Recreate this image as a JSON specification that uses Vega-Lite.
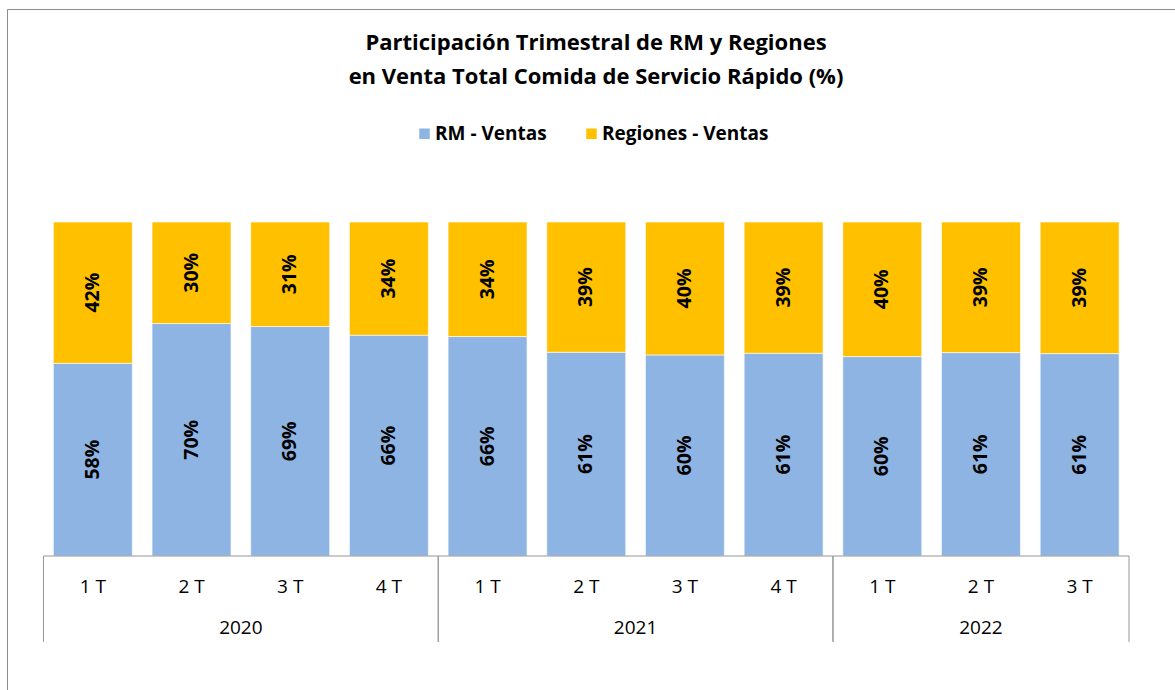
{
  "$schema": "https://vega.github.io/schema/vega-lite/v6.json",
  "width": 1168,
  "height": 681,
  "autosize": {"type": "none"},
  "padding": {"left": 7, "top": 9, "right": 0, "bottom": 0},
  "background": "white",
  "config": {
    "view": {"stroke": "#8c8c8c", "strokeWidth": 1},
    "font": "Open Sans",
    "text": {"font": "Open Sans", "color": "#000000"}
  },
  "title": {
    "text": ["Participación Trimestral de RM y Regiones", "en Venta Total Comida de Servicio Rápido (%)"],
    "fontSize": 22,
    "fontWeight": "bold",
    "font": "Open Sans",
    "color": "#000000",
    "anchor": "middle",
    "frame": "group",
    "offset": -80,
    "lineHeight": 34,
    "dx": 5
  },
  "datasets": {
    "ventas": [
      {"periodo": "2020-1", "anio": "2020", "trimestre": "1 T", "serie": "RM - Ventas", "valor": 0.577},
      {"periodo": "2020-1", "anio": "2020", "trimestre": "1 T", "serie": "Regiones - Ventas", "valor": 0.423},
      {"periodo": "2020-2", "anio": "2020", "trimestre": "2 T", "serie": "RM - Ventas", "valor": 0.696},
      {"periodo": "2020-2", "anio": "2020", "trimestre": "2 T", "serie": "Regiones - Ventas", "valor": 0.304},
      {"periodo": "2020-3", "anio": "2020", "trimestre": "3 T", "serie": "RM - Ventas", "valor": 0.687},
      {"periodo": "2020-3", "anio": "2020", "trimestre": "3 T", "serie": "Regiones - Ventas", "valor": 0.313},
      {"periodo": "2020-4", "anio": "2020", "trimestre": "4 T", "serie": "RM - Ventas", "valor": 0.661},
      {"periodo": "2020-4", "anio": "2020", "trimestre": "4 T", "serie": "Regiones - Ventas", "valor": 0.339},
      {"periodo": "2021-1", "anio": "2021", "trimestre": "1 T", "serie": "RM - Ventas", "valor": 0.657},
      {"periodo": "2021-1", "anio": "2021", "trimestre": "1 T", "serie": "Regiones - Ventas", "valor": 0.343},
      {"periodo": "2021-2", "anio": "2021", "trimestre": "2 T", "serie": "RM - Ventas", "valor": 0.610},
      {"periodo": "2021-2", "anio": "2021", "trimestre": "2 T", "serie": "Regiones - Ventas", "valor": 0.390},
      {"periodo": "2021-3", "anio": "2021", "trimestre": "3 T", "serie": "RM - Ventas", "valor": 0.602},
      {"periodo": "2021-3", "anio": "2021", "trimestre": "3 T", "serie": "Regiones - Ventas", "valor": 0.398},
      {"periodo": "2021-4", "anio": "2021", "trimestre": "4 T", "serie": "RM - Ventas", "valor": 0.607},
      {"periodo": "2021-4", "anio": "2021", "trimestre": "4 T", "serie": "Regiones - Ventas", "valor": 0.393},
      {"periodo": "2022-1", "anio": "2022", "trimestre": "1 T", "serie": "RM - Ventas", "valor": 0.597},
      {"periodo": "2022-1", "anio": "2022", "trimestre": "1 T", "serie": "Regiones - Ventas", "valor": 0.403},
      {"periodo": "2022-2", "anio": "2022", "trimestre": "2 T", "serie": "RM - Ventas", "valor": 0.609},
      {"periodo": "2022-2", "anio": "2022", "trimestre": "2 T", "serie": "Regiones - Ventas", "valor": 0.391},
      {"periodo": "2022-3", "anio": "2022", "trimestre": "3 T", "serie": "RM - Ventas", "valor": 0.606},
      {"periodo": "2022-3", "anio": "2022", "trimestre": "3 T", "serie": "Regiones - Ventas", "valor": 0.394}
    ],
    "anios": [
      {"anio": "2020", "desde": "2020-1", "hasta": "2020-4"},
      {"anio": "2021", "desde": "2021-1", "hasta": "2021-4"},
      {"anio": "2022", "desde": "2022-1", "hasta": "2022-3"}
    ]
  },
  "layer": [
    {
      "data": {"name": "ventas"},
      "transform": [
        {"stack": "valor", "groupby": ["periodo"], "sort": [{"field": "serie", "order": "ascending"}], "as": ["y0", "y1"]}
      ],
      "mark": {"type": "bar", "stroke": "#ffffff", "strokeWidth": 0.6},
      "encoding": {
        "x": {"field": "periodo", "type": "nominal", "axis": null,
          "scale": {"type": "band", "domain": ["2020-1","2020-2","2020-3","2020-4","2021-1","2021-2","2021-3","2021-4","2022-1","2022-2","2022-3"], "range": [36.5, 1122], "paddingInner": 0.2, "paddingOuter": 0.1}},
        "y": {"field": "y0", "type": "quantitative", "axis": null, "scale": {"domain": [0, 1], "range": [547, 213], "nice": false, "zero": false}},
        "y2": {"field": "y1"},
        "color": {"field": "serie", "type": "nominal",
          "scale": {"domain": ["RM - Ventas", "Regiones - Ventas"], "range": ["#8EB4E3", "#FFC000"]},
          "legend": {"orient": "none", "legendX": 408, "legendY": 115, "direction": "horizontal", "title": null,
            "symbolType": "square", "symbolSize": 110, "symbolStrokeWidth": 0, "labelFont": "Open Sans", "labelFontSize": 19,
            "labelFontWeight": "bold", "labelColor": "#000000", "columnPadding": 35, "labelOffset": 1, "labelLimit": 400}}
      }
    },
    {
      "data": {"name": "ventas"},
      "transform": [
        {"stack": "valor", "groupby": ["periodo"], "sort": [{"field": "serie", "order": "ascending"}], "as": ["y0", "y1"]},
        {"fold": ["y0", "y1"], "as": ["extremo", "pos"]}
      ],
      "mark": {"type": "text", "angle": 270, "fontSize": 19.5, "fontWeight": "bold", "font": "Open Sans", "color": "#000000"},
      "encoding": {
        "x": {"field": "periodo", "type": "nominal"},
        "y": {"field": "pos", "type": "quantitative", "aggregate": "mean", "stack": null},
        "detail": {"field": "serie"},
        "text": {"field": "valor", "type": "quantitative", "format": ".0%"}
      }
    },
    {
      "data": {"name": "ventas"},
      "transform": [{"filter": "datum.serie === 'RM - Ventas'"}],
      "mark": {"type": "text", "fontSize": 19, "font": "Open Sans", "color": "#000000"},
      "encoding": {
        "x": {"field": "periodo", "type": "nominal"},
        "y": {"datum": -0.093, "type": "quantitative"},
        "text": {"field": "trimestre"}
      }
    },
    {
      "data": {"name": "anios"},
      "transform": [{"filter": "datum.anio !== '2022'"}],
      "mark": {"type": "text", "fontSize": 19, "font": "Open Sans", "color": "#000000", "xOffset": 187.5},
      "encoding": {
        "x": {"field": "desde", "type": "nominal", "bandPosition": 0},
        "y": {"datum": -0.216, "type": "quantitative"},
        "text": {"field": "anio"}
      }
    },
    {
      "data": {"name": "anios"},
      "transform": [{"filter": "datum.anio === '2022'"}],
      "mark": {"type": "text", "fontSize": 19, "font": "Open Sans", "color": "#000000", "xOffset": 138.15},
      "encoding": {
        "x": {"field": "desde", "type": "nominal", "bandPosition": 0},
        "y": {"datum": -0.216, "type": "quantitative"},
        "text": {"field": "anio"}
      }
    },
    {
      "data": {"name": "anios"},
      "mark": {"type": "rule", "color": "#969696", "strokeWidth": 1, "xOffset": -9.87},
      "encoding": {
        "x": {"field": "desde", "type": "nominal", "bandPosition": 0},
        "y": {"datum": 0, "type": "quantitative"},
        "y2": {"datum": -0.257}
      }
    },
    {
      "data": {"name": "anios"},
      "mark": {"type": "rule", "color": "#969696", "strokeWidth": 1, "xOffset": 9.87},
      "encoding": {
        "x": {"field": "hasta", "type": "nominal", "bandPosition": 1},
        "y": {"datum": 0, "type": "quantitative"},
        "y2": {"datum": -0.257}
      }
    },
    {
      "data": {"name": "anios"},
      "mark": {"type": "rule", "color": "#969696", "strokeWidth": 1, "xOffset": -9.87, "x2Offset": 9.87},
      "encoding": {
        "x": {"field": "desde", "type": "nominal", "bandPosition": 0},
        "x2": {"field": "hasta", "bandPosition": 1},
        "y": {"datum": 0, "type": "quantitative"}
      }
    }
  ]
}
